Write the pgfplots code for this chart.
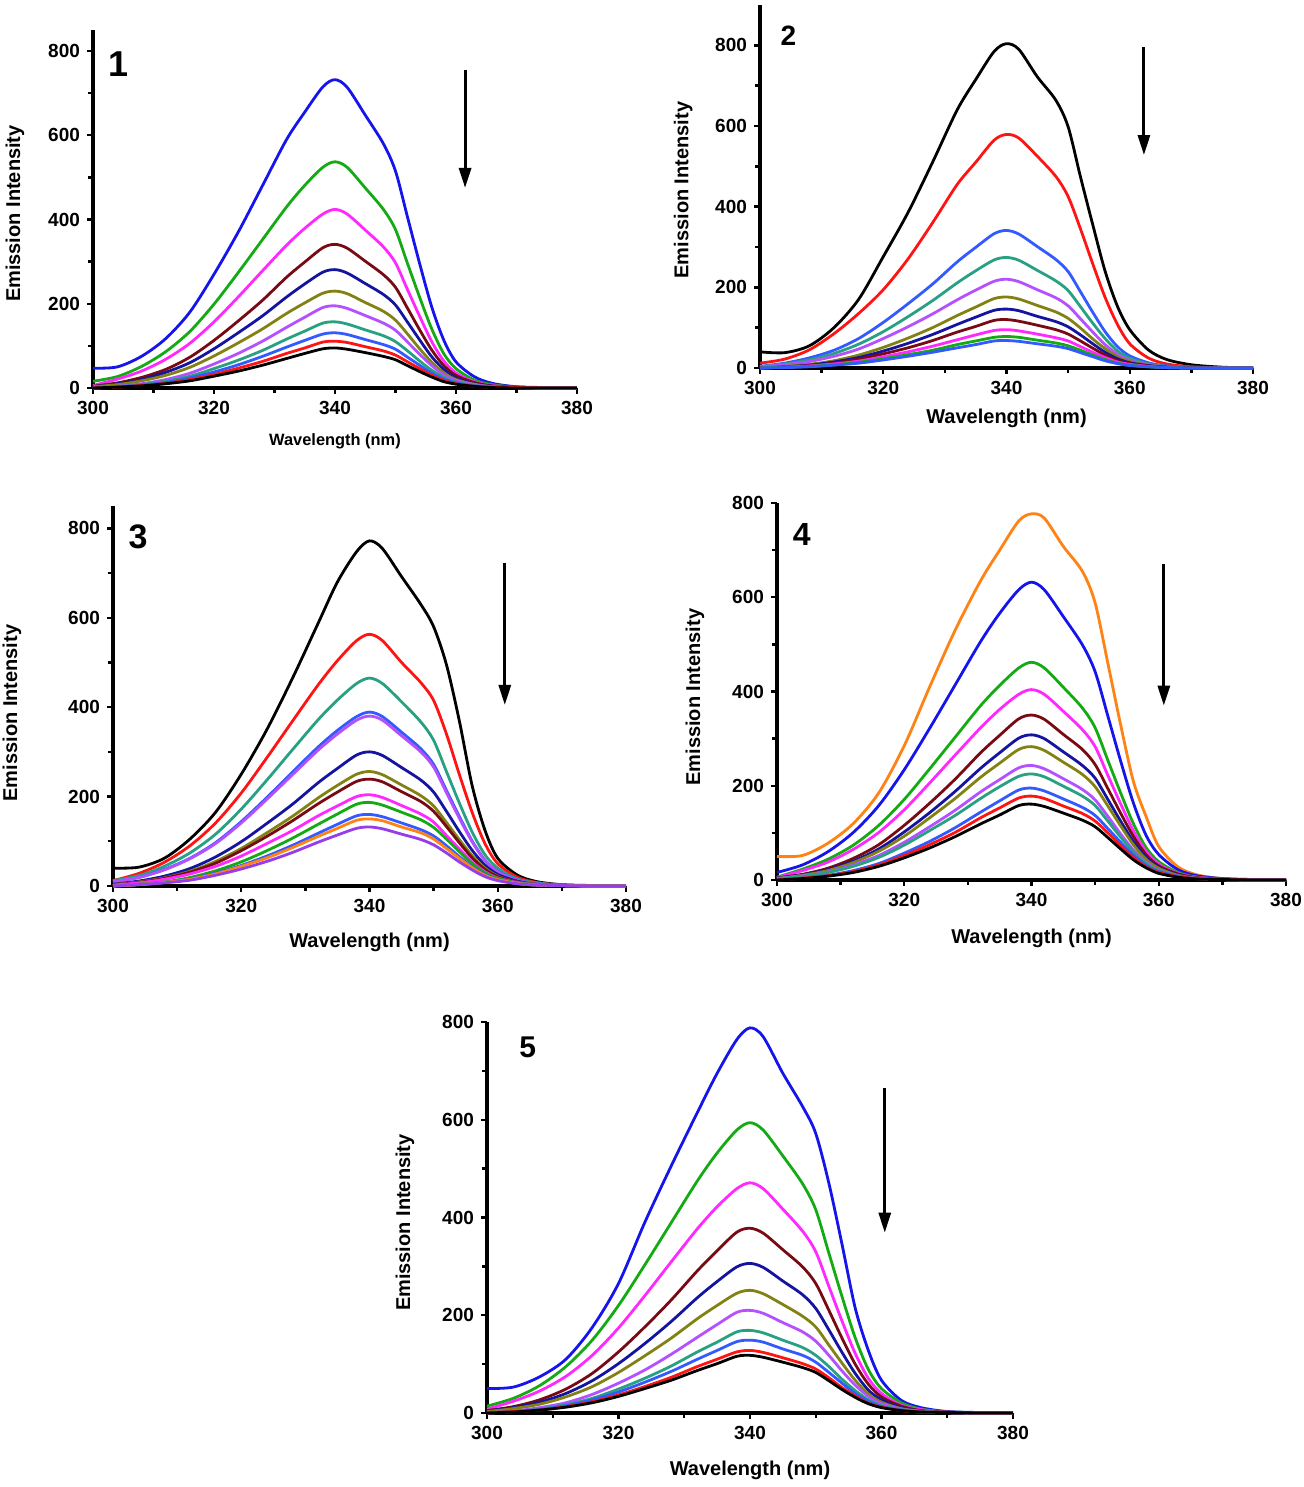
\documentclass[border=0pt]{standalone}
\usepackage{fontspec}
\setmainfont{Liberation Sans}
\usepackage{pgfplots}
\usepackage{pgfplotstable}
\pgfplotsset{compat=1.18}
\usetikzlibrary{arrows.meta}

\definecolor{cblue}{RGB}{20,20,235}
\definecolor{cgreen}{RGB}{20,170,20}
\definecolor{cmag}{RGB}{255,40,255}
\definecolor{cmaroon}{RGB}{120,10,20}
\definecolor{cnavy}{RGB}{20,20,160}
\definecolor{colive}{RGB}{130,130,20}
\definecolor{cviolet}{RGB}{180,80,255}
\definecolor{cpurple}{RGB}{150,60,235}
\definecolor{cteal}{RGB}{40,160,130}
\definecolor{croyal}{RGB}{50,90,255}
\definecolor{cred}{RGB}{255,20,20}
\definecolor{corange}{RGB}{255,130,20}

\pgfplotstableread{
x a b c d e f g h i j k
300 47 16 6 4 3 3 0 0 0 0 0
304 50 27 21 12 10 8 4 3 3 2 2
308 75 51 40 25 20 17 10 8 7 6 5
312 117 86 68 44 37 30 20 16 13 11 10
316 180 134 106 73 60 49 35 28 24 20 17
320 270 199 157 113 93 76 57 46 38 32 28
324 370 274 216 159 131 107 82 66 55 47 40
328 480 352 278 208 171 140 111 89 75 63 54
332 590 430 339 263 216 177 144 116 97 82 70
335 655 481 379 299 247 202 168 135 113 95 82
338 715 524 413 333 275 225 191 154 128 109 93
340 732 537 424 341 281 230 195 157 131 111 95
342 714 524 413 332 273 224 189 152 127 108 92
345 648 475 375 301 248 203 172 138 115 98 84
348 580 424 335 269 222 182 154 124 103 88 75
350 515 376 297 239 197 161 137 110 92 78 67
352 405 295 233 189 156 128 109 88 73 62 53
354 295 215 170 138 114 93 80 64 54 46 39
356 192 140 110 90 74 61 53 42 35 30 26
358 113 81 64 53 44 36 31 25 21 18 15
360 62 46 36 30 24 20 18 14 12 10 9
363 27 19 15 13 10 9 8 6 5 4 4
366 11 8 6 5 4 3 3 2 2 2 1
370 3 2 2 2 1 1 1 1 1 1 0
375 1 1 0 0 0 0 0 0 0 0 0
380 0 0 0 0 0 0 0 0 0 0 0
}\tA

\pgfplotstableread{
x a b c d e f g h i j k
300 40 12 4 3 3 0 0 0 0 0 0
304 38 22 12 10 8 4 3 2 2 2 1
308 55 45 25 20 16 9 7 6 5 4 3
312 100 85 44 36 29 18 15 12 10 8 7
316 170 135 73 59 47 32 26 22 17 14 12
320 276 194 113 90 73 51 42 35 28 23 20
324 385 270 159 127 102 74 61 50 40 33 29
328 510 360 208 167 134 100 83 68 54 44 39
332 640 455 263 211 169 130 108 89 70 58 50
335 715 510 299 241 193 151 126 103 82 67 58
338 785 565 333 268 215 172 143 118 93 76 67
340 804 579 341 274 220 176 146 120 95 78 68
342 790 570 332 267 214 171 142 116 92 76 66
345 722 525 301 242 194 155 128 106 84 69 60
348 664 475 269 216 174 139 115 95 75 62 54
350 598 425 239 192 154 123 102 84 67 55 48
352 474 345 189 152 122 99 82 67 53 44 38
354 355 258 138 111 89 72 60 49 39 32 28
356 240 175 90 73 58 48 39 32 26 21 18
358 153 108 53 42 34 28 23 19 15 12 11
360 95 60 30 24 19 16 13 11 9 7 6
363 45 25 13 10 8 7 6 5 4 3 3
366 21 10 5 4 3 3 2 2 1 1 1
370 8 3 2 1 1 1 1 1 0 0 0
375 2 1 0 0 0 0 0 0 0 0 0
380 0 0 0 0 0 0 0 0 0 0 0
}\tB

\pgfplotstableread{
x a b c d e f g h i j k l m
300 40 12 12 10 10 4 3 3 2 0 0 0 0
304 42 28 23 19 19 11 9 8 7 4 3 3 3
308 62 53 44 37 36 22 18 17 15 9 8 8 7
312 105 90 74 62 61 39 33 31 27 19 16 15 13
316 165 141 116 97 95 65 55 51 44 34 29 27 24
320 250 208 172 144 141 99 84 79 67 54 46 44 38
324 350 287 237 198 194 140 119 111 95 79 67 63 55
328 465 369 305 255 249 183 156 146 124 107 91 86 75
332 588 450 372 311 304 231 197 184 157 138 118 111 98
335 680 504 416 348 340 263 225 210 179 161 138 129 114
338 748 549 453 379 371 293 250 234 200 183 157 147 129
340 772 563 465 389 380 300 256 239 204 187 160 150 132
342 755 549 453 379 371 292 249 233 198 181 155 146 128
345 692 500 412 344 336 265 226 211 180 165 141 132 116
348 630 455 367 307 300 237 202 189 161 148 126 119 104
350 580 415 326 272 266 210 179 167 143 131 112 105 92
352 495 340 256 214 209 167 142 133 113 105 90 84 74
354 370 250 186 156 152 122 104 97 83 77 66 62 54
356 225 165 121 101 99 80 68 63 54 50 43 41 36
358 125 95 70 58 57 47 40 37 32 30 26 24 21
360 62 50 40 33 32 26 22 21 18 17 14 14 12
363 25 20 16 14 13 11 9 9 8 7 6 6 5
366 10 8 7 5 5 4 4 3 3 3 2 2 2
370 3 2 2 2 2 1 1 1 1 1 1 1 1
375 1 1 0 0 0 0 0 0 0 0 0 0 0
380 0 0 0 0 0 0 0 0 0 0 0 0 0
}\tC

\pgfplotstableread{
x a b c d e f g h i j k l
300 50 16 6 5 4 4 3 3 3 0 0 0
304 52 32 23 20 12 11 10 9 8 4 4 3
308 78 60 44 38 25 22 20 17 16 10 9 8
312 120 101 74 65 46 40 37 32 29 20 18 16
316 185 158 116 101 75 66 61 52 48 35 32 29
320 285 234 171 149 116 102 93 80 74 57 52 47
324 410 322 236 206 163 143 132 113 105 82 75 68
328 530 414 303 265 214 188 173 148 137 111 101 92
332 635 506 370 323 270 237 218 187 173 144 132 119
335 700 566 413 362 307 270 248 213 198 168 153 138
338 762 616 450 394 342 301 277 238 220 191 174 158
340 777 632 462 404 350 308 283 243 225 195 178 161
342 768 616 450 394 341 300 275 236 219 189 173 156
345 708 559 409 358 309 272 250 215 199 172 157 142
348 655 499 365 319 277 243 224 192 178 154 141 127
350 588 442 323 283 245 216 198 170 158 137 125 113
352 460 348 254 222 194 171 157 135 125 109 100 90
354 330 253 185 162 142 125 115 98 91 80 73 66
356 210 164 120 105 93 82 75 64 60 53 48 43
358 135 95 69 61 54 48 44 38 35 31 28 26
360 71 54 39 34 30 27 25 21 20 18 16 14
363 28 22 16 14 13 11 10 9 8 8 7 6
366 11 9 6 6 5 4 4 3 3 3 3 2
370 3 3 2 2 2 1 1 1 1 1 1 1
375 1 1 0 0 0 0 0 0 0 0 0 0
380 0 0 0 0 0 0 0 0 0 0 0 0
}\tD

\pgfplotstableread{
x a b c d e f g h i j k
300 50 14 8 5 4 3 0 0 0 0 0
304 53 30 24 13 11 9 4 3 3 3 2
308 74 56 45 27 22 18 11 8 7 6 6
312 110 95 75 49 40 33 21 17 15 13 12
316 175 149 118 81 66 54 38 30 27 23 21
320 265 220 174 125 101 83 61 49 43 37 34
324 390 303 240 176 142 117 88 71 63 54 50
328 505 389 309 231 187 153 120 96 85 73 67
332 615 475 377 291 236 193 155 125 110 95 87
335 695 532 422 332 269 220 181 145 128 110 101
338 764 579 459 370 299 245 206 166 146 125 116
340 788 594 471 378 306 251 210 169 149 128 118
342 770 579 459 368 298 244 204 164 145 124 114
345 695 526 417 334 270 222 185 149 131 113 104
348 627 469 372 299 242 198 166 134 118 101 93
350 572 416 330 265 214 176 147 118 104 90 83
352 470 327 259 210 170 139 118 95 83 72 66
354 345 238 188 153 124 102 86 69 61 52 48
356 215 154 122 100 81 67 57 46 40 35 32
358 128 89 71 59 47 39 34 27 24 20 19
360 67 50 40 33 27 22 19 15 13 12 11
363 26 21 16 14 11 9 8 7 6 5 5
366 11 8 7 5 4 4 3 3 2 2 2
370 3 2 2 2 1 1 1 1 1 1 1
375 1 1 0 0 0 0 0 0 0 0 0
380 0 0 0 0 0 0 0 0 0 0 0
}\tE

\pgfplotsset{
  panel/.style={
    scale only axis,
    anchor=south west,
    axis x line=bottom, axis y line=left,
    axis line style={line width=1.7pt,-},
    every outer x axis line/.append style={line width=1.7pt},
    every outer y axis line/.append style={line width=1.7pt},
    xmin=300, xmax=380, ymin=0,
    xtick={300,320,340,360,380},
    ytick={0,200,400,600,800},
    minor x tick num=1, minor y tick num=1,
    tick align=outside,
    major tick length=3pt, minor tick length=2.5pt,
    tick style={line width=1.2pt, black},
    ticklabel style={font=\bfseries\fontsize{9.5}{11}\selectfont},
    /pgf/number format/assume math mode=true,
    xlabel={Wavelength (nm)}, ylabel={Emission Intensity},
    ylabel style={font=\bfseries\fontsize{10}{12}\selectfont, anchor=center},
    xlabel style={font=\bfseries\fontsize{10}{12}\selectfont, anchor=center},
    every axis plot/.append style={line width=1.4pt, smooth, no marks},
    clip=false,
  },
}
\tikzset{
  arr/.style={line width=1.5pt, -{Triangle[width=6pt,length=10pt]}},
  num/.style={font=\bfseries\fontsize{#1}{#1}\selectfont},
}

\begin{document}
\begin{tikzpicture}
\path[use as bounding box] (0,0) rectangle (652pt,743.5pt);

% Panel 1
\begin{axis}[panel, at={(46.5pt,549.5pt)}, width=242pt, height=179pt, ymax=850,
  ylabel style={at={(axis description cs:-0.161,0.487)}},
  xlabel style={at={(axis description cs:0.5,-0.148)}, font=\bfseries\fontsize{8.2}{10}\selectfont}]
\addplot[color=cblue] table[x=x,y=a]{\tA};
\addplot[color=cgreen] table[x=x,y=b]{\tA};
\addplot[color=cmag] table[x=x,y=c]{\tA};
\addplot[color=cmaroon] table[x=x,y=d]{\tA};
\addplot[color=cnavy] table[x=x,y=e]{\tA};
\addplot[color=colive] table[x=x,y=f]{\tA};
\addplot[color=cviolet] table[x=x,y=g]{\tA};
\addplot[color=cteal] table[x=x,y=h]{\tA};
\addplot[color=croyal] table[x=x,y=i]{\tA};
\addplot[color=cred] table[x=x,y=j]{\tA};
\addplot[color=black] table[x=x,y=k]{\tA};
\node[num=18] at (axis cs:304.2,770) {1};
\draw[arr] (axis cs:361.5,755) -- (axis cs:361.5,475);
\end{axis}

% Panel 2
\begin{axis}[panel, at={(380pt,559.5pt)}, width=246.5pt, height=181.5pt, ymax=900,
  ylabel style={at={(axis description cs:-0.156,0.49)}},
  xlabel style={at={(axis description cs:0.5,-0.138)}}]
\addplot[color=black] table[x=x,y=a]{\tB};
\addplot[color=cred] table[x=x,y=b]{\tB};
\addplot[color=croyal] table[x=x,y=c]{\tB};
\addplot[color=cteal] table[x=x,y=d]{\tB};
\addplot[color=cviolet] table[x=x,y=e]{\tB};
\addplot[color=colive] table[x=x,y=f]{\tB};
\addplot[color=cnavy] table[x=x,y=g]{\tB};
\addplot[color=cmaroon] table[x=x,y=h]{\tB};
\addplot[color=cmag] table[x=x,y=i]{\tB};
\addplot[color=cgreen] table[x=x,y=j]{\tB};
\addplot[color=croyal] table[x=x,y=k]{\tB};
\node[num=14] at (axis cs:304.6,825) {2};
\draw[arr] (axis cs:362.3,795) -- (axis cs:362.3,528);
\end{axis}

% Panel 3
\begin{axis}[panel, at={(56.5pt,300.5pt)}, width=256.5pt, height=190pt, ymax=850,
  ylabel style={at={(axis description cs:-0.197,0.455)}},
  xlabel style={at={(axis description cs:0.5,-0.149)}}]
\addplot[color=black] table[x=x,y=a]{\tC};
\addplot[color=cred] table[x=x,y=b]{\tC};
\addplot[color=cteal] table[x=x,y=c]{\tC};
\addplot[color=croyal] table[x=x,y=d]{\tC};
\addplot[color=cviolet] table[x=x,y=e]{\tC};
\addplot[color=cnavy] table[x=x,y=f]{\tC};
\addplot[color=colive] table[x=x,y=g]{\tC};
\addplot[color=cmaroon] table[x=x,y=h]{\tC};
\addplot[color=cmag] table[x=x,y=i]{\tC};
\addplot[color=cgreen] table[x=x,y=j]{\tC};
\addplot[color=croyal] table[x=x,y=k]{\tC};
\addplot[color=corange] table[x=x,y=l]{\tC};
\addplot[color=cpurple] table[x=x,y=m]{\tC};
\node[num=17] at (axis cs:303.9,781) {3};
\draw[arr] (axis cs:361.1,722) -- (axis cs:361.1,405);
\end{axis}

% Panel 4
\begin{axis}[panel, at={(388.5pt,303.5pt)}, width=254.5pt, height=188.5pt, ymax=800,
  ylabel style={at={(axis description cs:-0.161,0.485)}},
  xlabel style={at={(axis description cs:0.5,-0.154)}}]
\addplot[color=corange] table[x=x,y=a]{\tD};
\addplot[color=cblue] table[x=x,y=b]{\tD};
\addplot[color=cgreen] table[x=x,y=c]{\tD};
\addplot[color=cmag] table[x=x,y=d]{\tD};
\addplot[color=cmaroon] table[x=x,y=e]{\tD};
\addplot[color=cnavy] table[x=x,y=f]{\tD};
\addplot[color=colive] table[x=x,y=g]{\tD};
\addplot[color=cviolet] table[x=x,y=h]{\tD};
\addplot[color=cteal] table[x=x,y=i]{\tD};
\addplot[color=croyal] table[x=x,y=j]{\tD};
\addplot[color=cred] table[x=x,y=k]{\tD};
\addplot[color=black] table[x=x,y=l]{\tD};
\node[num=16] at (axis cs:303.9,733) {4};
\draw[arr] (axis cs:360.8,670) -- (axis cs:360.8,370);
\end{axis}

% Panel 5
\begin{axis}[panel, at={(243.5pt,37pt)}, width=263pt, height=195.5pt, ymax=800,
  ylabel style={at={(axis description cs:-0.156,0.487)}},
  xlabel style={at={(axis description cs:0.5,-0.146)}}]
\addplot[color=cblue] table[x=x,y=a]{\tE};
\addplot[color=cgreen] table[x=x,y=b]{\tE};
\addplot[color=cmag] table[x=x,y=c]{\tE};
\addplot[color=cmaroon] table[x=x,y=d]{\tE};
\addplot[color=cnavy] table[x=x,y=e]{\tE};
\addplot[color=colive] table[x=x,y=f]{\tE};
\addplot[color=cviolet] table[x=x,y=g]{\tE};
\addplot[color=cteal] table[x=x,y=h]{\tE};
\addplot[color=croyal] table[x=x,y=i]{\tE};
\addplot[color=cred] table[x=x,y=j]{\tE};
\addplot[color=black] table[x=x,y=k]{\tE};
\node[num=15] at (axis cs:306.2,749) {5};
\draw[arr] (axis cs:360.5,665) -- (axis cs:360.5,369);
\end{axis}
\end{tikzpicture}
\end{document}
